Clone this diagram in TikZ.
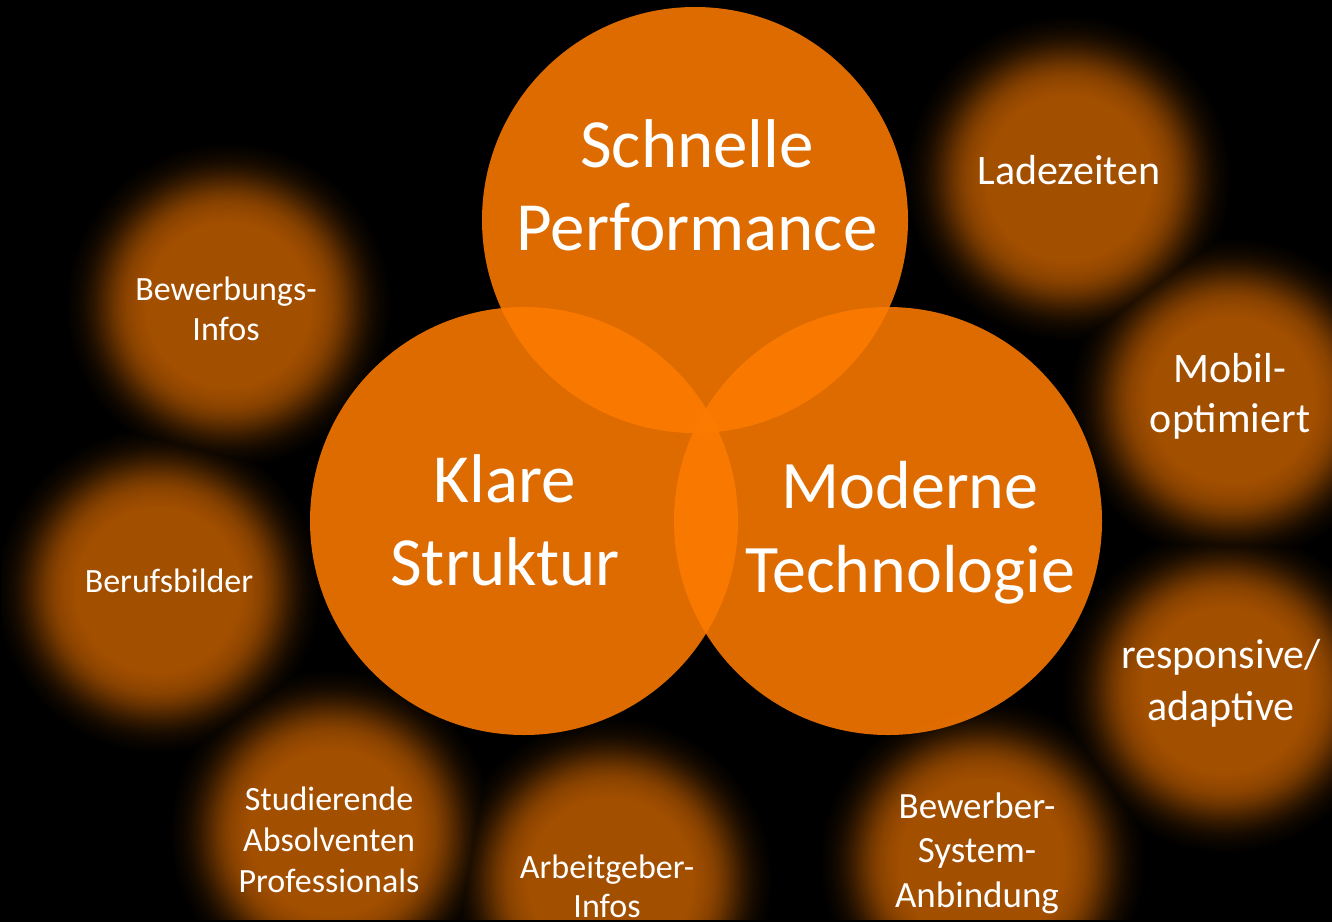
\documentclass[tikz,border=0pt]{standalone}
\usepackage{fontspec}
\setmainfont{Carlito}
\definecolor{vennc}{RGB}{254,123,0}
\definecolor{glowc}{RGB}{163,79,0}
\pgfdeclareradialshading{glow}{\pgfpoint{0bp}{0bp}}{%
color(0bp)=(glowc); color(12.5bp)=(glowc); color(14.2bp)=(glowc!93!black);
color(15.8bp)=(glowc!84!black); color(17.3bp)=(glowc!69!black);
color(18.8bp)=(glowc!50!black); color(20.3bp)=(glowc!31!black);
color(21.8bp)=(glowc!16!black); color(23.2bp)=(glowc!7!black);
color(24.5bp)=(glowc!2!black); color(25bp)=(black); color(50bp)=(black)}
\newcommand{\vstr}{\rule{0pt}{0.8em}}
\tikzset{
  glowdisc/.style={shading=glow},
  venn/.style={fill=vennc, fill opacity=0.87},
  lab/.style={text=white, align=center, inner sep=0pt, anchor=north},
  bigtxt/.style={lab, font=\fontsize{69bp}{83bp}\selectfont},
  midtxt/.style={lab, font=\fontsize{42bp}{50bp}\selectfont},
  smalltxt/.style={lab, font=\fontsize{34bp}{41bp}\selectfont}
}
\begin{document}
\begin{tikzpicture}[x=1bp,y=-1bp]
\useasboundingbox (0,0) rectangle (1332,921);
\fill[black] (-10,-10) rectangle (1342,931);
% glow centres
\coordinate (g1) at (1068,178);
\coordinate (g2) at (1232,400);
\coordinate (g3) at (1225,690);
\coordinate (g4) at (982,862);
\coordinate (g5) at (610,880);
\coordinate (g6) at (332,832);
\coordinate (g7) at (158,590);
\coordinate (g8) at (228,305);
\begin{scope}
\clip (1,1) rectangle (1331,919.5);
\begin{scope}[blend group=lighten]
\foreach \g in {g2,g1,g3,g4,g5,g6,g7,g8}{
  \shade[glowdisc] (\g) circle (163bp);
}
\end{scope}
\end{scope}
% Venn circles
\coordinate (ctop) at (695,220);
\coordinate (cleft) at (524,521);
\coordinate (cright) at (888,521);
\fill[venn] (ctop) circle (213bp);
\fill[venn] (cleft) circle (214bp);
\fill[venn] (cright) circle (214bp);
% texts
\node[bigtxt] (tperf) at (697,111.8) {\vstr Schnelle\\Performance};
\node[bigtxt] (tstruk) at (505,446.8) {\vstr Klare\\Struktur};
\node[bigtxt, font=\fontsize{68bp}{84bp}\selectfont] (ttech) at (910,453.6) {\vstr Moderne\\Technologie};
\node[midtxt] (tlade) at (1069,150.4) {\vstr Ladezeiten};
\node[midtxt] (tmobil) at (1230,348.4) {\vstr Mobil-\\optimiert};
\node[midtxt, font=\fontsize{42bp}{52bp}\selectfont] (tresp) at (1221,634.4) {\vstr responsive/\\adaptive};
\node[smalltxt, font=\fontsize{37bp}{44.5bp}\selectfont] (tbewerber) at (977,788.4) {\vstr Bewerber-\\System-\\Anbindung};
\node[smalltxt, font=\fontsize{34bp}{39bp}\selectfont] (targ) at (607,850.8) {\vstr Arbeitgeber-\\Infos};
\node[smalltxt] (tstud) at (329,782.8) {\vstr Studierende\\Absolventen\\Professionals};
\node[smalltxt] (tberuf) at (169,564.8) {\vstr Berufsbilder};
\node[smalltxt, font=\fontsize{34bp}{40bp}\selectfont] (tbewerb) at (226,272.8) {\vstr Bewerbungs-\\Infos};
\end{tikzpicture}
\end{document}
